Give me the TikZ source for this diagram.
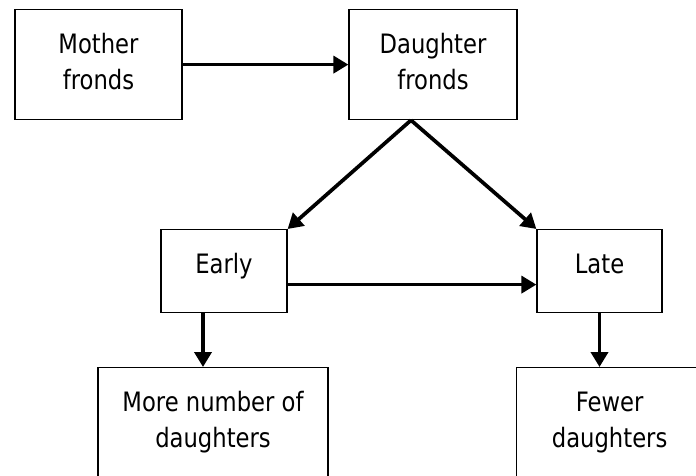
\documentclass[tikz,border=0pt]{standalone}
\usepackage{fontspec}
\newfontfamily\stagefont{DejaVu Sans}[FakeStretch=0.85]
\usetikzlibrary{arrows.meta}

\tikzset{
    stage/.style={draw, line width=1.2pt, inner sep=0pt, align=center, anchor=north,
        font=\stagefont\fontsize{26.7}{36}\selectfont},
    oneline/.style={text height=44pt},
    twoline/.style={text height=80pt},
    flow/.style={line width=3.7pt, -{Triangle[length=15pt, width=17pt]}}
}

\begin{document}
\begin{tikzpicture}[x=1pt, y=-1pt]
            \useasboundingbox (0,0) rectangle (696,475);
            \clip (0,0) rectangle (696,475);
            \node [stage, twoline, minimum width=167pt, text depth=30pt] (mother) at (98.5,9) {Mother\\fronds};
            \node [stage, twoline, minimum width=168pt, text depth=30pt] (daughter) at (433,9) {Daughter\\fronds};
            \node [stage, oneline, minimum width=126pt, text depth=39pt] (early) at (224,229) {Early};
            \node [stage, oneline, minimum width=125pt, text depth=39pt] (late) at (599.5,229) {Late};
            \node [stage, twoline, minimum width=230pt, text depth=43pt] (more) at (213,367) {More number of\\daughters};
            \node [stage, twoline, minimum width=186pt, text depth=43pt, anchor=north west] (fewer) at (516,367) {Fewer\\daughters};
            \coordinate (split) at ([xshift=-22pt]daughter.south);
            \coordinate (earlyfoot) at ([xshift=-21pt]early.south);
            \draw [flow] (mother.east) -- (daughter.west);
            \draw [flow] (split) -- (early.north east);
            \draw [flow] (split) -- (late.north west);
            \draw [flow] ([yshift=-13.5pt]early.east) -- ([yshift=-13.5pt]late.west);
            \draw [flow] (earlyfoot) -- (earlyfoot |- more.north);
            \draw [flow] (late.south) -- (late.south |- fewer.north);
        \end{tikzpicture}
\end{document}
